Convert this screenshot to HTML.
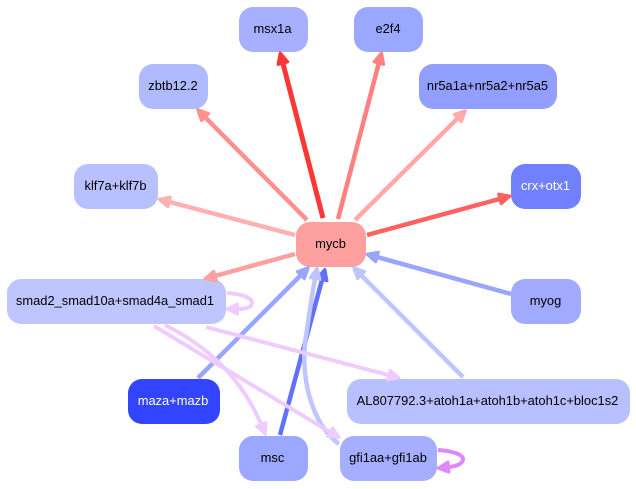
<!DOCTYPE html>
<html>
<head>
<meta charset="utf-8">
<style>
html,body{margin:0;padding:0;background:#fff}
svg{display:block}
text{font-family:"Liberation Sans",sans-serif;font-size:12.9px;text-anchor:middle;fill:#000}
text.w{fill:#fff}
.e{fill:none}
marker{overflow:visible}
marker path{stroke-width:3;stroke-linejoin:round}
</style>
</head>
<body>
<svg width="636" height="489" viewBox="0 0 636 489" xmlns="http://www.w3.org/2000/svg">
<defs>
<marker id="a1" markerUnits="userSpaceOnUse" markerWidth="16" markerHeight="16" refX="1" refY="7" orient="auto"><path d="M1.5,2L12,7L1.5,12z" fill="#ff3636" stroke="#ff3636"/></marker>
<marker id="a2" markerUnits="userSpaceOnUse" markerWidth="16" markerHeight="16" refX="1" refY="7" orient="auto"><path d="M1.5,2L12,7L1.5,12z" fill="#ff8080" stroke="#ff8080"/></marker>
<marker id="a3" markerUnits="userSpaceOnUse" markerWidth="16" markerHeight="16" refX="1" refY="7" orient="auto"><path d="M1.5,2L12,7L1.5,12z" fill="#ff9090" stroke="#ff9090"/></marker>
<marker id="a4" markerUnits="userSpaceOnUse" markerWidth="16" markerHeight="16" refX="1" refY="7" orient="auto"><path d="M1.5,2L12,7L1.5,12z" fill="#ffaaaa" stroke="#ffaaaa"/></marker>
<marker id="a5" markerUnits="userSpaceOnUse" markerWidth="16" markerHeight="16" refX="1" refY="7" orient="auto"><path d="M1.5,2L12,7L1.5,12z" fill="#ffb0b0" stroke="#ffb0b0"/></marker>
<marker id="a6" markerUnits="userSpaceOnUse" markerWidth="16" markerHeight="16" refX="1" refY="7" orient="auto"><path d="M1.5,2L12,7L1.5,12z" fill="#ff6060" stroke="#ff6060"/></marker>
<marker id="a7" markerUnits="userSpaceOnUse" markerWidth="16" markerHeight="16" refX="1" refY="7" orient="auto"><path d="M1.5,2L12,7L1.5,12z" fill="#ffa0a0" stroke="#ffa0a0"/></marker>
<marker id="b1" markerUnits="userSpaceOnUse" markerWidth="16" markerHeight="16" refX="1" refY="7" orient="auto"><path d="M1.5,2L12,7L1.5,12z" fill="#99a6ff" stroke="#99a6ff"/></marker>
<marker id="b2" markerUnits="userSpaceOnUse" markerWidth="16" markerHeight="16" refX="1" refY="7" orient="auto"><path d="M1.5,2L12,7L1.5,12z" fill="#6070ff" stroke="#6070ff"/></marker>
<marker id="b3" markerUnits="userSpaceOnUse" markerWidth="16" markerHeight="16" refX="1" refY="7" orient="auto"><path d="M1.5,2L12,7L1.5,12z" fill="#bfc6ff" stroke="#bfc6ff"/></marker>
<marker id="c1" markerUnits="userSpaceOnUse" markerWidth="16" markerHeight="16" refX="1" refY="7" orient="auto"><path d="M1.5,2L12,7L1.5,12z" fill="#eeccff" stroke="#eeccff"/></marker>
<marker id="c2" markerUnits="userSpaceOnUse" markerWidth="16" markerHeight="16" refX="1" refY="7" orient="auto"><path d="M1.5,2L12,7L1.5,12z" fill="#dd88ff" stroke="#dd88ff"/></marker>
</defs>

<!-- nodes -->
<rect x="239" y="7" width="69" height="45" rx="14" fill="#a6b0ff"/>
<rect x="354" y="7" width="69" height="45" rx="14" fill="#9aa8ff"/>
<rect x="139" y="64" width="69" height="45" rx="14" fill="#b0baff"/>
<rect x="419" y="64" width="138" height="45" rx="14" fill="#929fff"/>
<rect x="74" y="164" width="84" height="45" rx="14" fill="#b8c0ff"/>
<rect x="511" y="164" width="70" height="45" rx="14" fill="#7080ff"/>
<rect x="296" y="222" width="70" height="45" rx="14" fill="#ffa0a0"/>
<rect x="7" y="279" width="219" height="45" rx="14" fill="#bfc6ff"/>
<rect x="511" y="279" width="70" height="45" rx="14" fill="#a0aaff"/>
<rect x="128" y="379" width="92" height="45" rx="14" fill="#3344ff"/>
<rect x="347" y="379" width="283" height="45" rx="14" fill="#b8c0ff"/>
<rect x="239" y="436" width="69" height="45" rx="14" fill="#9ca8ff"/>
<rect x="340" y="436" width="97" height="45" rx="14" fill="#a6aeff"/>

<!-- edges -->
<line class="e" x1="323" y1="218" x2="283" y2="63.6" stroke="#ff3636" stroke-width="5" marker-end="url(#a1)"/>
<line class="e" x1="338" y1="219" x2="378.7" y2="63.6" stroke="#ff8080" stroke-width="4.5" marker-end="url(#a2)"/>
<line class="e" x1="307" y1="220" x2="205.4" y2="117.5" stroke="#ff9090" stroke-width="4.5" marker-end="url(#a3)"/>
<line class="e" x1="355" y1="220" x2="457.5" y2="118.4" stroke="#ffaaaa" stroke-width="4.5" marker-end="url(#a4)"/>
<line class="e" x1="295" y1="235" x2="169.6" y2="202" stroke="#ffb0b0" stroke-width="4.5" marker-end="url(#a5)"/>
<line class="e" x1="367" y1="235" x2="499.4" y2="199" stroke="#ff6060" stroke-width="4.5" marker-end="url(#a6)"/>
<line class="e" x1="295" y1="254" x2="215.6" y2="275.8" stroke="#ffa0a0" stroke-width="4.5" marker-end="url(#a7)"/>
<line class="e" x1="511" y1="294" x2="377.6" y2="257.2" stroke="#99a6ff" stroke-width="4.5" marker-end="url(#b1)"/>
<line class="e" x1="198" y1="378" x2="300.5" y2="275.5" stroke="#99a6ff" stroke-width="4.5" marker-end="url(#b1)"/>
<line class="e" x1="280" y1="435" x2="322" y2="280" stroke="#6070ff" stroke-width="4.5" marker-end="url(#b2)"/>
<line class="e" x1="463" y1="377" x2="361.5" y2="275.5" stroke="#bfc6ff" stroke-width="4.5" marker-end="url(#b3)"/>
<path class="e" d="M339,444C312,425 298,375 307,330C309,315 312,295 315,279" stroke="#bfc6ff" stroke-width="4.5" marker-end="url(#b3)"/>
<line class="e" x1="206" y1="327" x2="388.4" y2="375" stroke="#eeccff" stroke-width="4" marker-end="url(#c1)"/>
<path class="e" d="M165,325C205,345 240,375 261,424" stroke="#eeccff" stroke-width="4" marker-end="url(#c1)"/>
<line class="e" x1="154" y1="326" x2="329.7" y2="431.8" stroke="#eeccff" stroke-width="4" marker-end="url(#c1)"/>
<path class="e" d="M227,293C243,294 252,298 252,303C252,307 246,309 238,309" stroke="#eeccff" stroke-width="4" marker-end="url(#c1)"/>
<path class="e" d="M438,450C454,451 463,455 463,459C463,463 458,466 449,467" stroke="#dd88ff" stroke-width="4" marker-end="url(#c2)"/>

<!-- labels -->
<text x="272.500" y="33">msx1a</text>
<text x="388" y="33">e2f4</text>
<text x="173" y="90">zbtb12.2</text>
<text x="487.500" y="90">nr5a1a+nr5a2+nr5a5</text>
<text x="115.500" y="190">klf7a+klf7b</text>
<text class="w" x="545.500" y="190">crx+otx1</text>
<text x="330.500" y="248">mycb</text>
<text x="115" y="305">smad2_smad10a+smad4a_smad1</text>
<text x="545.500" y="305">myog</text>
<text class="w" x="173" y="405">maza+mazb</text>
<text x="487.500" y="405">AL807792.3+atoh1a+atoh1b+atoh1c+bloc1s2</text>
<text x="272.500" y="462">msc</text>
<text x="388" y="462">gfi1aa+gfi1ab</text>
</svg>
</body>
</html>
